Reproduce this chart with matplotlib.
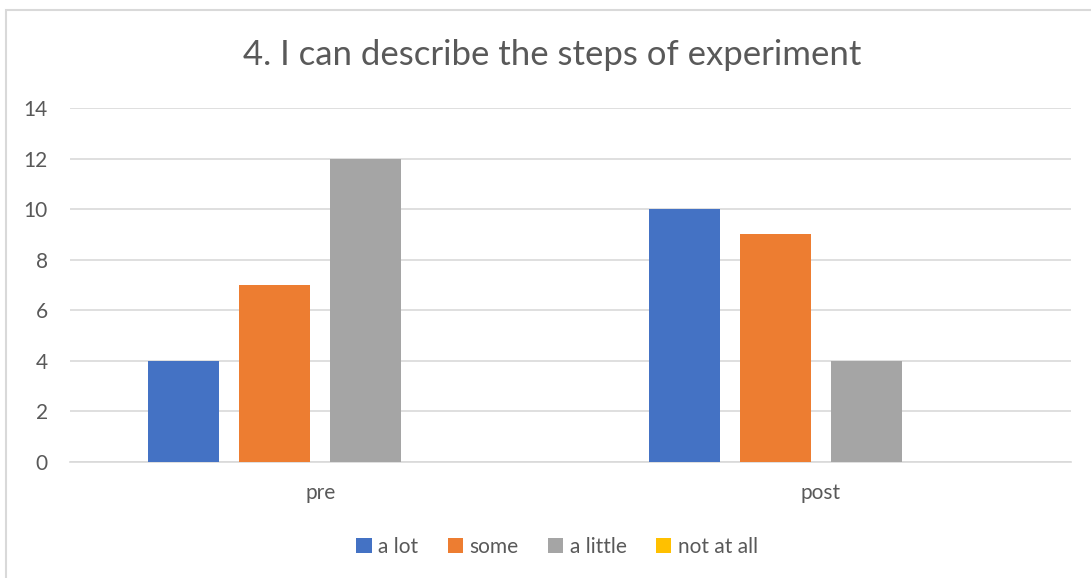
import numpy as np
import matplotlib.pyplot as plt
from matplotlib.patches import Rectangle

categories = ['pre', 'post']
series = ['a lot', 'some', 'a little', 'not at all']
values = {
    'a lot': [4, 10],
    'some': [7, 9],
    'a little': [12, 4],
    'not at all': [0, 0],
}
colors = ['#4472C4', '#ED7D31', '#A5A5A5', '#FFC000']
yticks = [0, 2, 4, 6, 8, 10, 12, 14]

txt = '#595959'
plt.rcParams['font.family'] = ['Lato', 'DejaVu Sans']

W, H = 1091, 578
fig = plt.figure(figsize=(W / 100, H / 100), dpi=100)
ax = fig.add_axes([70 / W, 1 - 462 / H, 1001 / W, 354 / H])

x = np.arange(len(categories))
width = 71 / 501
step = 91 / 501
for i, name in enumerate(series):
    off = (i - 1.5) * step
    ax.bar(x + off, values[name], width, color=colors[i], label=name, zorder=3)

ax.set_xlim(-0.5, 1.5)
ax.set_ylim(0, 14)
ax.set_yticks(yticks)
ax.set_xticks(x)
ax.set_xticklabels(categories)
ax.yaxis.grid(True, color='#D9D9D9', linewidth=1.2, zorder=0)
for s in ['top', 'right', 'left']:
    ax.spines[s].set_visible(False)
ax.spines['bottom'].set_color('#D9D9D9')
ax.spines['bottom'].set_linewidth(1.2)
ax.tick_params(axis='both', length=0, labelsize=15, colors=txt)
ax.tick_params(axis='y', pad=16)
ax.tick_params(axis='x', pad=15)

fig.text(552 / W, 1 - 55 / H, '4. I can describe the steps of experiment',
         ha='center', va='center', fontsize=25, color=txt)

leg = fig.legend(loc='center', bbox_to_anchor=(557 / W, 1 - 547 / H), ncol=4,
                 frameon=False, fontsize=15, handlelength=0.75, handleheight=0.75,
                 handletextpad=0.3, columnspacing=1.4)
for t in leg.get_texts():
    t.set_color(txt)

fig.patches.append(Rectangle((6 / W, -0.1), 1.2, 1 - 10 / H + 0.1,
                             transform=fig.transFigure, fill=False,
                             edgecolor='#D9D9D9', linewidth=1.5))

fig.savefig('out.png', dpi=100)
